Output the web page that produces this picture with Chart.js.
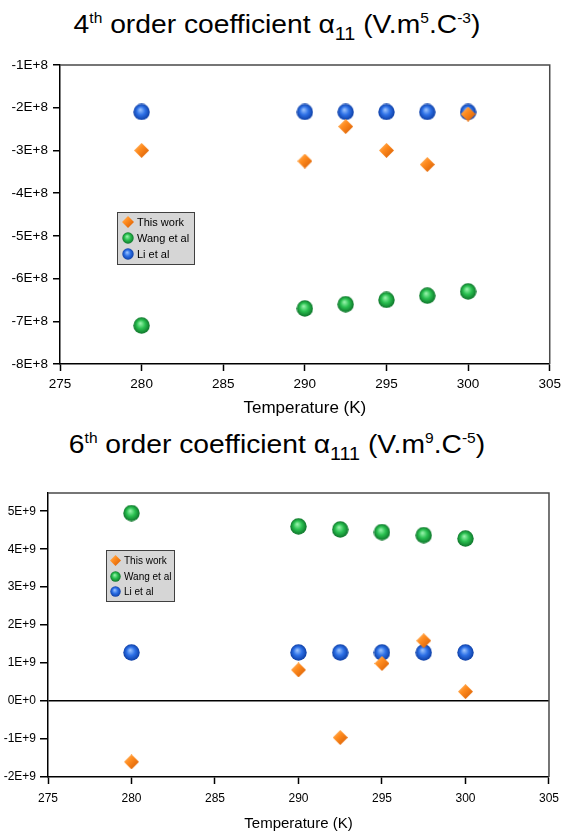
<!DOCTYPE html>
<html>
<head>
<meta charset="utf-8">
<script src="https://cdn.jsdelivr.net/npm/chart.js@4.4.0/dist/chart.umd.min.js"></script>
<style>
  body { margin: 0; background: #fff; font-family: 'Liberation Sans', Arial, sans-serif; }
  #page { position: relative; width: 566px; height: 836px; overflow: hidden; }
  canvas.chart { position: absolute; left: 0; }
  .title { position: absolute; left: 0; width: 554px; text-align: center; font-size: 25px; line-height: 30px; color: #000; transform: scaleX(1.13); white-space: nowrap; }
  .title sup { font-size: 0.55em; vertical-align: 0.7em; line-height: 0; }
  .title sub { font-size: 0.7em; vertical-align: -0.38em; line-height: 0; }
  .legend { position: absolute; background: #d6d6d6; border: 1px solid #404040; box-sizing: border-box; color: #000; }
  .legend div { display: flex; align-items: center; white-space: nowrap; }
  .legend canvas { margin-right: 3px; }
</style>
</head>
<body>
<div id="page">
  <div class="title" style="top: 9px;">4<sup>th</sup> order coefficient α<sub>11</sub> (V.m<sup>5</sup>.C<sup>-3</sup>)</div>
  <canvas id="chart4" class="chart" width="566" height="420" style="top: 0;"></canvas>
  <div id="legend4" class="legend" style="left: 117px; top: 212px; width: 78px; height: 53px; font-size: 11px; padding: 1px 0 0 4px;"></div>

  <div class="title" style="top: 429px;">6<sup>th</sup> order coefficient α<sub>111</sub> (V.m<sup>9</sup>.C<sup>-5</sup>)</div>
  <canvas id="chart6" class="chart" width="566" height="416" style="top: 420px;"></canvas>
  <div id="legend6" class="legend" style="left: 106px; top: 550px; width: 69px; height: 52px; font-size: 10px; padding: 2px 0 0 3px;"></div>
</div>
<script>
const temps = [280, 290, 292.5, 295, 297.5, 300];
const seriesNames = ['This work', 'Wang et al', 'Li et al'];

// 4th order coefficient a11 (V.m5.C-3)
const thisWork4 = [-3.0e8, -3.25e8, -2.44e8, -3.0e8, -3.33e8, -2.15e8];
const wang4 = [-7.1e8, -6.7e8, -6.6e8, -6.5e8, -6.4e8, -6.3e8];
const li4 = [-2.1e8, -2.1e8, -2.1e8, -2.1e8, -2.1e8, -2.1e8];

// 6th order coefficient a111 (V.m9.C-5)
const thisWork6 = [-1.6e9, 0.82e9, -0.96e9, 0.99e9, 1.59e9, 0.25e9];
const wang6 = [4.95e9, 4.6e9, 4.52e9, 4.45e9, 4.37e9, 4.28e9];
const li6 = [1.28e9, 1.28e9, 1.28e9, 1.28e9, 1.28e9, 1.28e9];

const xTicks = [275, 280, 285, 290, 295, 300, 305];
const yTicks4 = [-8e8, -7e8, -6e8, -5e8, -4e8, -3e8, -2e8, -1e8];
const yLabels4 = ['-8E+8', '-7E+8', '-6E+8', '-5E+8', '-4E+8', '-3E+8', '-2E+8', '-1E+8'];
const yTicks6 = [-2e9, -1e9, 0, 1e9, 2e9, 3e9, 4e9, 5e9];
const yLabels6 = ['-2E+9', '-1E+9', '0E+0', '1E+9', '2E+9', '3E+9', '4E+9', '5E+9'];

function drawSphere(ctx, s, light, mid, dark) {
    let r = s / 2;
    let g = ctx.createRadialGradient(s * 0.42, s * 0.36, 0, r, r, r);
    g.addColorStop(0, light);
    g.addColorStop(0.5, mid);
    g.addColorStop(1, dark);
    ctx.fillStyle = g;
    ctx.beginPath();
    ctx.arc(r, r, r - 0.3, 0, Math.PI * 2);
    ctx.fill();
}

function drawDiamond(ctx, s) {
    let r = s / 2;
    let g = ctx.createLinearGradient(0, 0, s, s);
    g.addColorStop(0, '#ffc27a');
    g.addColorStop(0.4, '#ff8c1f');
    g.addColorStop(1, '#d45800');
    ctx.fillStyle = g;
    ctx.beginPath();
    ctx.moveTo(r, 0);
    ctx.lineTo(s, r);
    ctx.lineTo(r, s);
    ctx.lineTo(0, r);
    ctx.closePath();
    ctx.fill();
}

function drawMarker(ctx, kind, s) {
    if (kind === 0) {
        drawDiamond(ctx, s);
    } else if (kind === 1) {
        drawSphere(ctx, s, '#a0f7b2', '#2ac050', '#0c7028');
    } else {
        drawSphere(ctx, s, '#a2c8ff', '#2d70e6', '#0c3ca2');
    }
}

function marker(kind, s) {
    let cv = document.createElement('canvas');
    cv.width = s;
    cv.height = s;
    drawMarker(cv.getContext('2d'), kind, s);
    return cv;
}

function buildLegend(id, iconSize, rowHeight) {
    let box = document.getElementById(id);
    seriesNames.forEach(function(name, i) {
        let row = document.createElement('div');
        row.style.height = rowHeight + 'px';
        let icon = document.createElement('canvas');
        icon.width = iconSize;
        icon.height = iconSize;
        drawMarker(icon.getContext('2d'), i, iconSize);
        row.appendChild(icon);
        let label = document.createElement('span');
        label.textContent = name;
        row.appendChild(label);
        box.appendChild(row);
    });
}

const framePlugin = {
    id: 'frame',
    beforeDatasetsDraw(chart) {
        let a = chart.chartArea;
        let ctx = chart.ctx;
        ctx.save();
        ctx.strokeStyle = '#4a4a4a';
        ctx.lineWidth = 1.5;
        ctx.beginPath();
        ctx.moveTo(a.left, a.top);
        ctx.lineTo(a.right, a.top);
        ctx.lineTo(a.right, a.bottom);
        ctx.stroke();
        ctx.restore();
    }
};

function points(ys) {
    return temps.map(function(t, i) { return { x: t, y: ys[i] }; });
}

function makeChart(id, series, yTicks, yLabels, o) {
    let ctx = document.getElementById(id).getContext('2d');
    return new Chart(ctx, {
        type: 'scatter',
        data: {
            datasets: series.map(function(ys, i) {
                return {
                    label: seriesNames[i],
                    data: points(ys),
                    pointStyle: marker(i, i === 0 ? o.diamond : o.sphere),
                    showLine: false
                };
            })
        },
        options: {
            responsive: false,
            animation: false,
            layout: { padding: { top: o.padTop, right: o.padRight, left: 0, bottom: 0 } },
            plugins: { legend: { display: false }, tooltip: { enabled: false } },
            scales: {
                x: {
                    type: 'linear',
                    min: 275,
                    max: 305,
                    afterBuildTicks: function(scale) { scale.ticks = xTicks.map(function(v) { return { value: v }; }); },
                    afterFit: function(scale) { scale.height = o.xHeight; },
                    ticks: { color: '#000', font: { family: 'Liberation Sans', size: o.tickFont }, padding: o.xPad, maxRotation: 0 },
                    grid: { drawOnChartArea: false, tickLength: 7, tickColor: '#000', tickWidth: 1.5 },
                    border: { color: '#000', width: 1.5 },
                    title: { display: true, text: 'Temperature (K)', color: '#000', font: { family: 'Liberation Sans', size: o.titleFont }, padding: { top: 0, bottom: o.titlePad } }
                },
                y: {
                    min: yTicks[0],
                    max: o.yMax,
                    afterBuildTicks: function(scale) { scale.ticks = yTicks.map(function(v) { return { value: v }; }); },
                    afterFit: function(scale) { scale.width = o.yWidth; },
                    ticks: {
                        color: '#000',
                        font: { family: 'Liberation Sans', size: o.tickFont },
                        padding: o.yPad,
                        callback: function(v) { return yLabels[yTicks.indexOf(v)]; }
                    },
                    grid: {
                        drawOnChartArea: o.zeroLine,
                        color: function(c) { return c.tick && c.tick.value === 0 ? '#000' : 'rgba(0,0,0,0)'; },
                        lineWidth: 1.5,
                        tickLength: o.yTickLen,
                        tickColor: '#000',
                        tickWidth: 1.5
                    },
                    border: { color: '#000', width: 1.5 }
                }
            }
        },
        plugins: [framePlugin]
    });
}

makeChart('chart4', [thisWork4, wang4, li4], yTicks4, yLabels4, {
    padTop: 65, padRight: 14, yWidth: 60, xHeight: 56, yMax: -1e8,
    tickFont: 13.5, titleFont: 17, xPad: 5, yPad: 5, yTickLen: 7, titlePad: 1,
    diamond: 15, sphere: 17, zeroLine: false
});

makeChart('chart6', [thisWork6, wang6, li6], yTicks6, yLabels6, {
    padTop: 73, padRight: 7, yWidth: 48, xHeight: 59, yMax: 5.48e9,
    tickFont: 12, titleFont: 15, xPad: 7, yPad: 4, yTickLen: 8, titlePad: 3,
    diamond: 15, sphere: 17, zeroLine: true
});

buildLegend('legend4', 12, 16);
buildLegend('legend6', 11, 15.5);
</script>
</body>
</html>
